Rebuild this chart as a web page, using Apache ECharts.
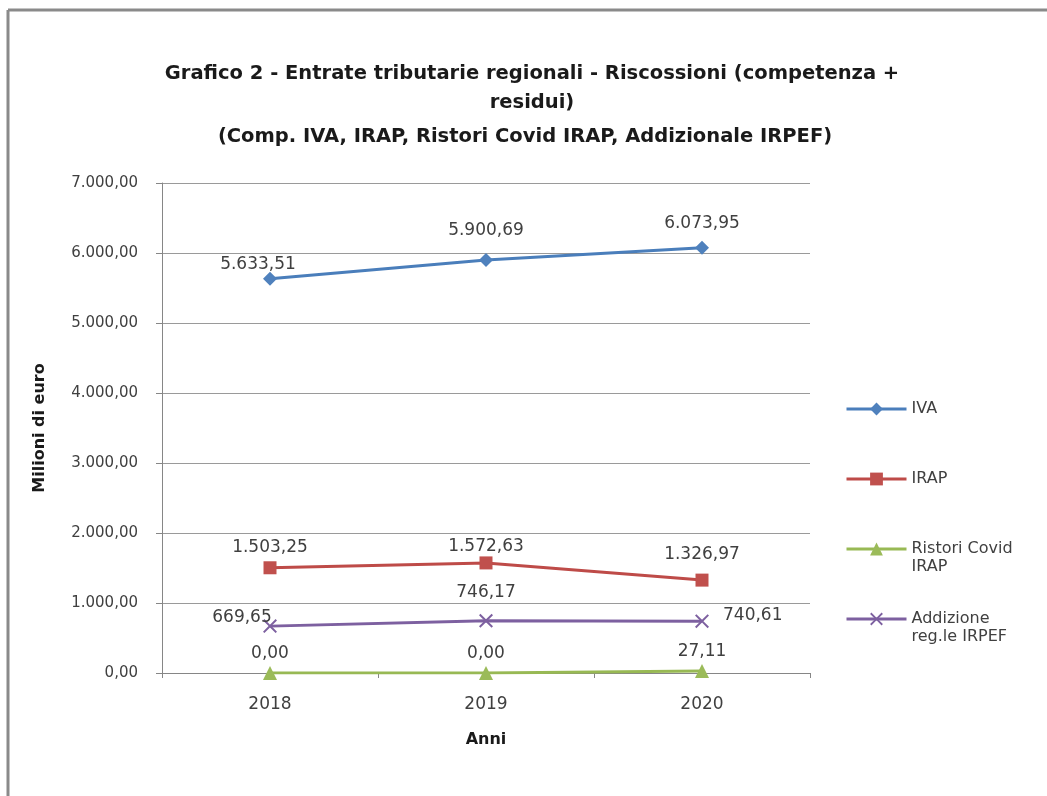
<!DOCTYPE html>
<html>
<head>
<meta charset="utf-8">
<script src="https://cdn.jsdelivr.net/npm/echarts@6/dist/echarts.min.js"></script>
<style>
html,body{margin:0;padding:0;background:#fff;}
#chart{width:1047px;height:796px;}
</style>
</head>
<body>
<div id="chart"></div>
<script>
// ---- data ----
const categories = ['2018', '2019', '2020'];
const ivaValues = [5633.51, 5900.69, 6073.95];
const irapValues = [1503.25, 1572.63, 1326.97];
const ristoriValues = [0.00, 0.00, 27.11];
const addizionaleValues = [669.65, 746.17, 740.61];
const seriesNames = ['IVA', 'IRAP', 'Ristori Covid IRAP', 'Addizione reg.le IRPEF'];
const legendTexts = ['IVA', 'IRAP', 'Ristori Covid\nIRAP', 'Addizione\nreg.le IRPEF'];
const yTicks = [0, 1000, 2000, 3000, 4000, 5000, 6000, 7000];

// ---- label layout (style, not data) ----
const labelOffsets = {
  iva: [[-12, 6], [0, -9], [0, -4]],
  irap: [[0, 0], [0, 4], [0, -6]],
  ristori: [[0, 1], [0, 1], [0, 1]],
  add: [[-28, 12], [0, -8], [0, 0]]
};

function fmt(v) {
  const parts = v.toFixed(2).split('.');
  parts[0] = parts[0].replace(/\B(?=(\d{3})+(?!\d))/g, '.');
  return parts[0] + ',' + parts[1];
}

function buildData(values, offsets, special) {
  return values.map((v, i) => {
    const item = { value: v, label: { offset: offsets[i] } };
    if (special && special[i]) item.label = Object.assign(item.label, special[i]);
    return item;
  });
}

const FONT = 'DejaVu Sans';
const colors = ['#4A7EBB', '#BE4B48', '#9BBB59', '#7D60A0'];
const xPath = 'path://M2,0 L10,8 L18,0 L20,2 L12,10 L20,18 L18,20 L10,12 L2,20 L0,18 L8,10 L0,2 Z';

const labelBase = {
  show: true,
  position: 'top',
  distance: 5,
  color: '#404040',
  fontFamily: FONT,
  fontSize: 17,
  formatter: p => fmt(p.value)
};

// legend: the symbol is centred on the text block; a blank leading line
// puts the first text line level with the symbol for two-line names
function legendAt(idx, centerY) {
  const txt = legendTexts[idx];
  const twoLine = txt.indexOf('\n') >= 0;
  const lh = 18;
  const lines = twoLine ? 3 : 1;
  return {
    data: [seriesNames[idx]],
    left: 845,
    top: centerY - lines * lh / 2,
    orient: 'vertical',
    itemWidth: 60,
    itemHeight: 16,
    itemGap: 0,
    padding: 0,
    formatter: () => twoLine ? ' \n' + txt : txt,
    lineStyle: { width: 3 },
    textStyle: {
      fontFamily: FONT,
      fontSize: 16,
      color: '#404040',
      lineHeight: lh
    }
  };
}

const chart = echarts.init(document.getElementById('chart'));
chart.setOption({
  backgroundColor: '#ffffff',
  animation: false,
  color: colors,
  title: [
    {
      text: 'Grafico 2 - Entrate tributarie regionali - Riscossioni (competenza +\nresidui)',
      left: 527, top: 54, textAlign: 'center',
      textStyle: { fontFamily: FONT, fontSize: 19.5, fontWeight: 'bold', color: '#1a1a1a', lineHeight: 29 }
    },
    {
      text: '(Comp. IVA, IRAP, Ristori Covid IRAP, Addizionale IRPEF)',
      left: 520, top: 117, textAlign: 'center',
      textStyle: { fontFamily: FONT, fontSize: 19.5, fontWeight: 'bold', color: '#1a1a1a', lineHeight: 29 }
    }
  ],
  graphic: [
    { type: 'line', shape: { x1: 8, y1: 10, x2: 1047, y2: 10 }, style: { stroke: '#8a8a8a', lineWidth: 3 } },
    { type: 'line', shape: { x1: 8, y1: 10, x2: 8, y2: 796 }, style: { stroke: '#8a8a8a', lineWidth: 3 } }
  ],
  legend: [
    legendAt(0, 409),
    legendAt(1, 479),
    legendAt(2, 549),
    legendAt(3, 619)
  ],
  grid: { left: 162, top: 183, width: 648, height: 490, containLabel: false },
  xAxis: {
    type: 'category',
    data: categories,
    boundaryGap: true,
    name: 'Anni',
    nameLocation: 'middle',
    nameGap: 59,
    nameTextStyle: { fontFamily: FONT, fontSize: 16, fontWeight: 'bold', color: '#1a1a1a' },
    axisLine: { lineStyle: { color: '#868686', width: 1 } },
    axisTick: { show: true, alignWithLabel: false, length: 5, inside: false, lineStyle: { color: '#868686' } },
    axisLabel: { fontFamily: FONT, fontSize: 17, color: '#404040', margin: 23 },
    splitLine: { show: false }
  },
  yAxis: {
    type: 'value',
    min: yTicks[0],
    max: yTicks[yTicks.length - 1],
    interval: 1000,
    name: 'Milioni di euro',
    nameLocation: 'middle',
    nameGap: 114,
    nameRotate: 90,
    nameTextStyle: { fontFamily: FONT, fontSize: 16, fontWeight: 'bold', color: '#1a1a1a' },
    axisLine: { show: true, lineStyle: { color: '#868686', width: 1 } },
    axisTick: { show: true, length: 6, inside: false, lineStyle: { color: '#868686' } },
    axisLabel: { fontFamily: FONT, fontSize: 15, color: '#404040', margin: 24, formatter: v => fmt(v) },
    splitLine: { show: true, lineStyle: { color: '#9a9a9a', width: 1 } }
  },
  series: [
    {
      name: seriesNames[0], type: 'line', data: buildData(ivaValues, labelOffsets.iva),
      symbol: 'diamond', symbolSize: 14,
      lineStyle: { color: '#4A7EBB', width: 3 }, itemStyle: { color: '#4F81BD' },
      label: labelBase, z: 4
    },
    {
      name: seriesNames[1], type: 'line', data: buildData(irapValues, labelOffsets.irap),
      symbol: 'rect', symbolSize: 13,
      lineStyle: { color: '#BE4B48', width: 3 }, itemStyle: { color: '#C0504D' },
      label: labelBase, z: 4
    },
    {
      name: seriesNames[2], type: 'line', data: buildData(ristoriValues, labelOffsets.ristori),
      symbol: 'triangle', symbolSize: 14,
      lineStyle: { color: '#98B954', width: 3 }, itemStyle: { color: '#9BBB59' },
      label: labelBase, z: 3
    },
    {
      name: seriesNames[3], type: 'line', data: buildData(addizionaleValues, labelOffsets.add, [null, null, { position: 'right', distance: 14, offset: [0, -6] }]),
      symbol: xPath, symbolSize: 14,
      lineStyle: { color: '#7D60A0', width: 3 }, itemStyle: { color: '#7D60A0' },
      label: labelBase, z: 4
    }
  ]
});
</script>
</body>
</html>
